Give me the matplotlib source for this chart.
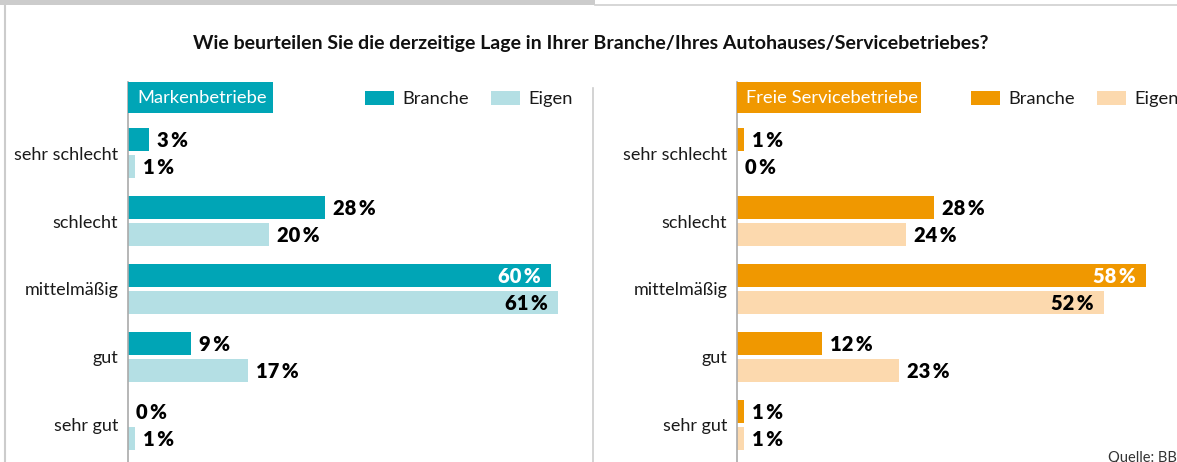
import matplotlib.pyplot as plt
from matplotlib.patches import Rectangle
from matplotlib.lines import Line2D

# Data
categories = ['sehr schlecht', 'schlecht', 'mittelmäßig', 'gut', 'sehr gut']
marken_branche = [3, 28, 60, 9, 0]
marken_eigen = [1, 20, 61, 17, 1]
freie_branche = [1, 28, 58, 12, 1]
freie_eigen = [0, 24, 52, 23, 1]
series_labels = ['Branche', 'Eigen']
panel_titles = ['Markenbetriebe', 'Freie Servicebetriebe']
title = 'Wie beurteilen Sie die derzeitige Lage in Ihrer Branche/Ihres Autohauses/Servicebetriebes?'
source = 'Quelle: BBE'

TEAL, TEAL_L = '#00a5b6', '#b4dfe4'
ORANGE, ORANGE_L = '#f09800', '#fcd9ae'
FONT = 'Lato'

W, H = 1177, 462
fig = plt.figure(figsize=(W / 100, H / 100), dpi=100)


def fx(px):
    return px / W


def fy(py):
    return 1 - py / H


# frame decorations of the screenshot
fig.add_artist(Rectangle((0, fy(5)), fx(595), 5 / H, transform=fig.transFigure,
                         color='#cccccc', lw=0))
fig.add_artist(Line2D([fx(595), 1], [fy(4.5), fy(4.5)], transform=fig.transFigure,
                      color='#d0d0d0', lw=1.2))
fig.add_artist(Line2D([fx(5), fx(5)], [fy(5), 0], transform=fig.transFigure,
                      color='#cccccc', lw=1.5))
fig.add_artist(Line2D([fx(593), fx(593)], [fy(88), 0], transform=fig.transFigure,
                      color='#cccccc', lw=1.2))

fig.text(fx(591), fy(44), title, ha='center', va='center', fontsize=14,
         fontweight='bold', family=FONT, color='#111111')
fig.text(fx(1108), fy(451), source, ha='left', va='top', fontsize=10.5,
         family=FONT, color='#333333')

SCALE = 7.05  # px per percent
top_px, bot_px = 82, 462
center0, step = 153, 68
ylim_top = (top_px - center0) / step
ylim_bot = (bot_px - center0) / step


def pct(v):
    return f'{v}\u2009%'


def panel(x0, x1, branche, eigen, c_dark, c_light, head, head_w, leg_x):
    ax = fig.add_axes([fx(x0), fy(bot_px), fx(x1 - x0), (bot_px - top_px) / H])
    ax.set_xlim(0, (x1 - x0) / SCALE)
    ax.set_ylim(ylim_bot, ylim_top)
    ys = list(range(len(categories)))
    off, h = 13.5 / step, 23 / step
    yb = [y - off for y in ys]
    ye = [y + off for y in ys]
    ax.barh(yb, branche, height=h, color=c_dark, lw=0)
    ax.barh(ye, eigen, height=h, color=c_light, lw=0)
    for yy, vals, inside_col in ((yb, branche, 'white'), (ye, eigen, 'black')):
        for y, v in zip(yy, vals):
            if v >= 50:
                ax.text(v - 10 / SCALE, y + 0.02, pct(v), ha='right', va='center',
                        fontsize=14.5, fontweight='heavy', family=FONT, color=inside_col)
            else:
                ax.text(v + 8 / SCALE, y + 0.02, pct(v), ha='left', va='center',
                        fontsize=14.5, fontweight='heavy', family=FONT, color='black')
    ax.set_yticks(ys)
    ax.set_yticklabels(categories, fontsize=13, family=FONT, color='#1a1a1a')
    ax.tick_params(axis='y', length=0, pad=7)
    ax.set_xticks([])
    for s in ('top', 'right', 'bottom'):
        ax.spines[s].set_visible(False)
    ax.spines['left'].set_color('#aaaaaa')
    ax.spines['left'].set_linewidth(1.2)

    # header box
    fig.add_artist(Rectangle((fx(x0), fy(113)), fx(head_w), 31 / H,
                             transform=fig.transFigure, color=c_dark, lw=0))
    fig.text(fx(x0 + 9), fy(98), head, ha='left', va='center', fontsize=13.2,
             family=FONT, color='white')
    # legend
    for i, (lab, col) in enumerate(zip(series_labels, (c_dark, c_light))):
        lx = leg_x[i]
        fig.add_artist(Rectangle((fx(lx), fy(105)), fx(29), 14 / H,
                                 transform=fig.transFigure, color=col, lw=0))
        fig.text(fx(lx + 37), fy(99), lab, ha='left', va='center', fontsize=13.2,
                 family=FONT, color='#1a1a1a')
    return ax


panel(128, 593, marken_branche, marken_eigen, TEAL, TEAL_L,
      panel_titles[0], 145, (365, 491))
panel(737, 1177, freie_branche, freie_eigen, ORANGE, ORANGE_L,
      panel_titles[1], 184, (971, 1097))

fig.savefig('out.png', dpi=100)
